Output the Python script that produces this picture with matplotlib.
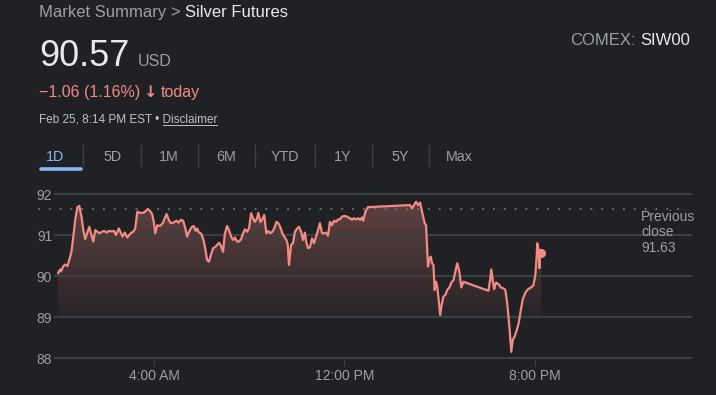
import numpy as np
import matplotlib.pyplot as plt
from matplotlib.patches import Polygon
from matplotlib.lines import Line2D

plt.rcParams['font.family'] = ['Liberation Sans', 'DejaVu Sans']

# hours after midnight (Feb 25) and price in USD
hours = [-0.03, 0.05, 0.09, 0.19, 0.27, 0.36, 0.44, 0.53, 0.61, 0.69,
         0.78, 0.86, 0.95, 1.03, 1.11, 1.20, 1.28, 1.37, 1.45, 1.53,
         1.62, 1.70, 1.82, 1.90, 2.01, 2.10, 2.21, 2.32, 2.40, 2.52,
         2.60, 2.68, 2.77, 2.88, 2.96, 3.05, 3.13, 3.21, 3.30, 3.41,
         3.55, 3.66, 3.75, 3.83, 3.92, 4.00, 4.05, 4.14, 4.25, 4.37,
         4.45, 4.53, 4.62, 4.70, 4.81, 4.95, 5.02, 5.13, 5.22, 5.30,
         5.39, 5.47, 5.58, 5.67, 5.75, 5.81, 5.89, 5.97, 6.06, 6.14,
         6.23, 6.31, 6.39, 6.48, 6.56, 6.65, 6.73, 6.82, 6.90, 6.98,
         7.07, 7.15, 7.24, 7.32, 7.40, 7.49, 7.57, 7.66, 7.74, 7.82,
         7.91, 7.99, 8.08, 8.16, 8.24, 8.33, 8.38, 8.47, 8.55, 8.63,
         8.72, 8.80, 8.89, 8.97, 9.05, 9.14, 9.22, 9.31, 9.39, 9.47,
         9.56, 9.62, 9.67, 9.76, 9.84, 9.92, 10.01, 10.09, 10.18, 10.26,
         10.34, 10.39, 10.47, 10.55, 10.64, 10.72, 10.81, 10.89, 10.97, 11.06,
         11.14, 11.23, 11.31, 11.39, 11.48, 11.56, 11.65, 11.73, 11.81, 11.90,
         11.98, 12.07, 12.15, 12.24, 12.32, 12.40, 12.49, 12.57, 12.66, 12.74,
         12.79, 12.88, 12.99, 14.75, 14.84, 14.92, 15.01, 15.09, 15.18, 15.29,
         15.37, 15.43, 15.48, 15.51, 15.57, 15.63, 15.68, 15.74, 15.79, 15.85,
         15.90, 15.96, 16.02, 16.07, 16.16, 16.24, 16.32, 16.41, 16.49, 16.58,
         16.66, 16.74, 16.83, 16.91, 17.00, 18.05, 18.12, 18.17, 18.23, 18.29,
         18.37, 18.48, 18.57, 18.68, 18.76, 18.84, 18.93, 19.01, 19.07, 19.16,
         19.24, 19.32, 19.41, 19.49, 19.60, 19.68, 19.77, 19.85, 19.94, 20.02,
         20.08, 20.10, 20.16, 20.19, 20.21, 20.27]
prices = [90.07, 90.16, 90.11, 90.24, 90.28, 90.24, 90.39, 90.59, 90.96, 91.37,
          91.68, 91.71, 91.45, 91.12, 90.90, 91.06, 91.20, 91.00, 90.84, 91.12,
          91.08, 91.04, 91.08, 91.10, 91.06, 91.10, 91.09, 91.10, 91.00, 91.16,
          91.06, 90.96, 91.06, 90.94, 91.00, 91.06, 91.08, 91.16, 91.57, 91.54,
          91.54, 91.59, 91.63, 91.59, 91.51, 91.29, 91.04, 91.24, 91.22, 91.29,
          91.41, 91.51, 91.37, 91.29, 91.30, 91.35, 91.30, 91.37, 91.35, 91.20,
          90.96, 91.08, 91.19, 91.22, 91.10, 91.16, 91.06, 91.04, 90.92, 90.71,
          90.39, 90.35, 90.51, 90.68, 90.70, 90.76, 90.81, 90.73, 90.59, 91.04,
          91.22, 91.12, 90.96, 90.88, 90.94, 90.84, 90.84, 90.90, 91.04, 91.14,
          91.08, 91.16, 91.53, 91.41, 91.32, 91.41, 91.54, 91.32, 91.38, 91.49,
          91.04, 91.10, 91.04, 91.08, 91.16, 91.32, 91.29, 91.19, 91.04, 90.96,
          90.88, 90.76, 90.27, 90.76, 90.80, 91.08, 91.16, 91.20, 91.08, 90.88,
          91.06, 90.84, 90.68, 90.70, 90.92, 90.80, 90.96, 91.12, 91.29, 91.04,
          91.04, 91.06, 90.98, 91.32, 91.24, 91.35, 91.32, 91.38, 91.38, 91.45,
          91.46, 91.46, 91.43, 91.41, 91.37, 91.41, 91.38, 91.41, 91.37, 91.43,
          91.35, 91.57, 91.68, 91.73, 91.65, 91.73, 91.81, 91.73, 91.79, 91.49,
          91.29, 91.24, 90.63, 90.23, 90.43, 90.47, 90.31, 90.27, 89.66, 89.86,
          89.74, 89.41, 89.05, 89.25, 89.50, 89.54, 89.66, 89.72, 89.84, 89.90,
          90.10, 90.31, 90.10, 89.72, 89.86, 89.64, 89.90, 90.16, 89.90, 89.68,
          89.84, 89.80, 89.72, 89.70, 89.66, 89.33, 88.76, 88.15, 88.44, 88.54,
          88.68, 88.85, 89.17, 89.43, 89.59, 89.66, 89.70, 89.72, 89.78, 90.02,
          90.51, 90.80, 90.63, 90.19, 90.63, 90.57]

prev_close = 91.63
last_price = 90.57
y_ticks = [88, 89, 90, 91, 92]
x_ticks = [4, 12, 20]
x_labels = ['4:00 AM', '12:00 PM', '8:00 PM']
tabs = ['1D', '5D', '1M', '6M', 'YTD', '1Y', '5Y', 'Max']

W, H = 716, 395
BG = '#202124'
RED = '#f28b82'
GREY = '#9aa0a6'
WHITE = '#e8eaed'
GRID = '#3c4043'

fig = plt.figure(figsize=(W / 100, H / 100), dpi=100, facecolor=BG)
renderer = fig.canvas.get_renderer()


def fx(x):
    return x / W


def fy(y):
    return 1 - y / H


def width(s, size, **kw):
    t = fig.text(0, 0, s, fontsize=size, **kw)
    w = t.get_window_extent(renderer).width
    t.remove()
    return w


# ---- header
fig.text(fx(39), fy(17), 'Market Summary > ', color=GREY, fontsize=12, va='baseline')
x2 = 39 + width('Market Summary > Silver Futures', 12) - width('Silver Futures', 12)
fig.text(fx(x2), fy(17), 'Silver Futures', color=WHITE, fontsize=12, va='baseline')

fig.text(fx(690), fy(45), 'SIW00', color=WHITE, fontsize=12, va='baseline', ha='right')
fig.text(fx(690 - width('COMEX: SIW00', 12)), fy(45), 'COMEX:', color=GREY,
         fontsize=12, va='baseline')

fig.text(fx(39), fy(66), '90.57', color=WHITE, fontsize=26, va='baseline')
fig.text(fx(138), fy(66), 'USD', color=GREY, fontsize=11.5, va='baseline')

change = '\u22121.06 (1.16%)'
fig.text(fx(39), fy(97), change, color=RED, fontsize=11.5, va='baseline')
ax_arrow = 39 + width(change, 11.5) + 4
fig.text(fx(ax_arrow), fy(97), '\u2193', color=RED, fontsize=11.5, va='baseline',
         fontweight='bold', family='DejaVu Sans')
fig.text(fx(ax_arrow + width('\u2193', 11.5, fontweight='bold', family='DejaVu Sans') + 3),
         fy(97), 'today', color=RED, fontsize=11.5, va='baseline')

info = 'Feb 25, 8:14 PM EST \u2022 Disclaimer'
fig.text(fx(39), fy(122), info, color='#bdc1c6', fontsize=8.5, va='baseline')
d_end = 39 + width(info, 8.5)
d_start = d_end - width('Disclaimer', 8.5)
fig.add_artist(Line2D([fx(d_start), fx(d_end)], [fy(124.5)] * 2, color='#bdc1c6', lw=0.7))

# ---- range tabs
tab_x = [55, 112, 169, 226, 285, 343, 400, 459]
for lab, tx in zip(tabs, tab_x):
    fig.text(fx(tx), fy(161), lab, color='#8ab4f8' if lab == '1D' else GREY,
             fontsize=10.3, ha='center', va='baseline')
for sx in [83, 141, 198, 255, 315, 372, 429]:
    fig.add_artist(Line2D([fx(sx)] * 2, [fy(145), fy(166)], color=GRID, lw=1))
fig.add_artist(Line2D([fx(41), fx(81)], [fy(169)] * 2, color='#8ab4f8', lw=2.6,
                      solid_capstyle='round'))

# ---- chart
ax = fig.add_axes([fx(55), fy(358), fx(691) - fx(55), fy(185) - fy(358)])
ax.set_facecolor(BG)
for s in ax.spines.values():
    s.set_visible(False)

for yv in y_ticks:
    ax.axhline(yv, color=GRID, lw=1.5, zorder=3, clip_on=False)

# gradient fill under the line, down to 89
top = max(prices)
n = 200
grad = np.zeros((n, 1, 4))
grad[:, 0, :3] = np.array([242, 139, 130]) / 255
grad[:, 0, 3] = np.linspace(0.3, 0.04, n)
im = ax.imshow(grad, extent=[hours[0], hours[-1], 89, top], origin='upper',
               aspect='auto', zorder=2, interpolation='bilinear')
verts = list(zip(hours, prices)) + [(hours[-1], 89), (hours[0], 89)]
clip = Polygon(verts, closed=True, facecolor='none', edgecolor='none')
ax.add_patch(clip)
im.set_clip_path(clip)

ax.plot([-0.87, 26.45], [prev_close] * 2, ls=(0, (1, 5)), color='#6f7378', lw=1.3,
        clip_on=False, zorder=3)
ax.plot(hours, prices, color=RED, lw=1.6, zorder=4, solid_joinstyle='round')
ax.plot(hours[-1], last_price, 'o', ms=5.5, color=RED, zorder=5)

ax.set_xlim(-0.16, 26.56)
ax.set_ylim(88, 92.22)
ax.set_yticks(y_ticks)
ax.set_xticks(x_ticks, x_labels)
ax.tick_params(axis='y', length=0, pad=2, labelcolor=GREY, labelsize=10)
ax.tick_params(axis='x', length=6, width=1, color=GRID, pad=2, labelcolor=GREY,
               labelsize=10)

for i, line in enumerate(['Previous', 'close', '91.63']):
    fig.text(fx(641), fy(221 + 15.5 * i), line, color=GREY, fontsize=10, va='baseline')

fig.savefig('out.png', dpi=100, facecolor=BG)
